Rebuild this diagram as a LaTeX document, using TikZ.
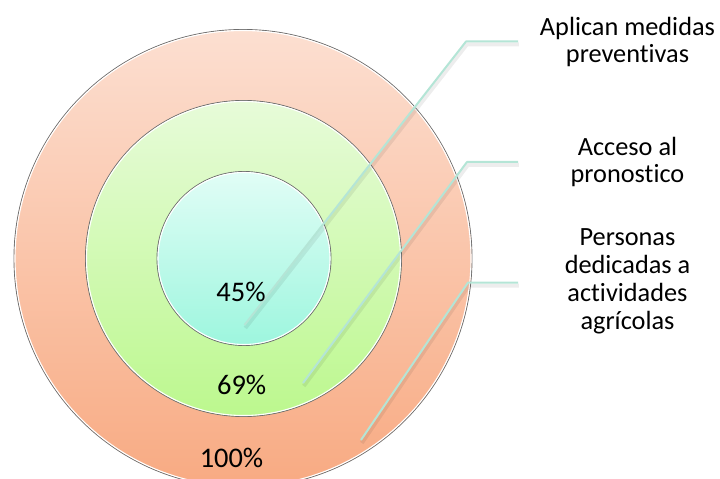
\documentclass[tikz,border=0pt]{standalone}
\usepackage{fontspec}
\setmainfont{Carlito}[Ligatures={NoCommon,NoContextual}]
\definecolor{outtop}{HTML}{FCDFD1}
\definecolor{outbot}{HTML}{F8AA82}
\definecolor{midtop}{HTML}{E7FBD9}
\definecolor{midbot}{HTML}{BCF88E}
\definecolor{intop}{HTML}{E1FDF6}
\definecolor{inbot}{HTML}{9DF6DE}
\definecolor{leadcol}{HTML}{B4E5D6}
\definecolor{ringcol}{HTML}{6E6E6E}
\begin{document}
\begin{tikzpicture}[x=1bp,y=-1bp,
  ring/.style={circle, draw=ringcol, line width=0.9bp, inner sep=0pt, outer sep=0pt},
  hilite/.style={draw=white, line width=1.1bp},
  pct/.style={font=\fontsize{28.5}{30}\selectfont, anchor=base, inner sep=0pt},
  lbl/.style={font=\fontsize{26.4}{27.8}\selectfont, align=center, anchor=base, inner sep=0pt},
  leader/.style={draw=leadcol, line width=2bp, line join=round},
  leadshadow/.style={draw=black, opacity=0.07, line width=4bp, line join=round,
    transform canvas={xshift=0.8bp, yshift=-3bp}}
]
\useasboundingbox (0,0) rectangle (720,479);
\clip (0,0) rectangle (720,479);

% rings
\node[ring, minimum size=458bp, top color=outtop, bottom color=outbot] (outer) at (243,258.5) {};
\draw[hilite] (243,258.5) circle[radius=228];
\node[ring, minimum size=316bp, top color=midtop, bottom color=midbot] (middle) at (243.5,258.5) {};
\draw[hilite] (243.5,258.5) circle[radius=157];
\node[ring, minimum size=174bp, top color=intop, bottom color=inbot] (inner) at (244,258.5) {};
\draw[hilite] (244,258.5) circle[radius=86];

% leader coordinates
\coordinate (s1) at (244.5,325);
\coordinate (k1) at (466,41.5);
\coordinate (e1) at (518,41.5);
\coordinate (s2) at (303,383);
\coordinate (k2) at (467,162);
\coordinate (e2) at (518,162);
\coordinate (s3) at (361,440);
\coordinate (k3) at (468,282.5);
\coordinate (e3) at (518,282.5);

% shadows
\draw[leadshadow] (s1) -- (k1) -- (e1);
\draw[leadshadow] (s2) -- (k2) -- (e2);
\draw[leadshadow] (s3) -- (k3) -- (e3);
% leaders
\draw[leader] (s1) -- (k1) -- (e1);
\draw[leader] (s2) -- (k2) -- (e2);
\draw[leader] (s3) -- (k3) -- (e3);

% percentages
\node[pct] (p45) at (241,301) {45\%};
\node[pct] (p69) at (241.7,394) {69\%};
\node[pct] (p100) at (231.5,467) {100\%};

% labels (base anchor = baseline of the last line)
\node[lbl] (l1) at (627.5,63) {Aplican medidas\\preventivas};
\node[lbl] (l2) at (627.5,183) {Acceso al\\pronostico};
\node[lbl] (l3) at (627.5,329) {Personas\\dedicadas a\\actividades\\agrícolas};
\end{tikzpicture}
\end{document}
